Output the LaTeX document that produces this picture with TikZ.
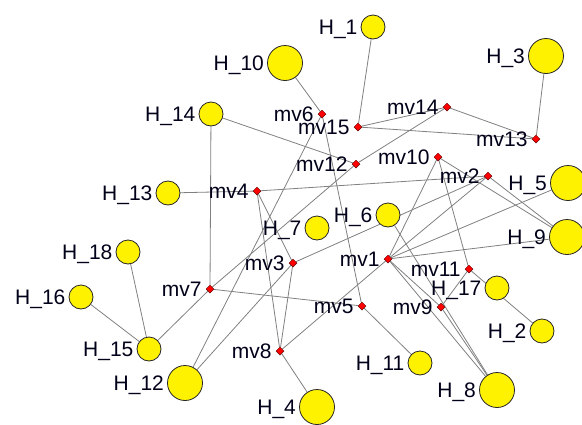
\documentclass[tikz,border=0pt]{standalone}
\usepackage{fontspec}
\setmainfont{Liberation Sans}
\usetikzlibrary{shapes.geometric,backgrounds}
\begin{document}
\begin{tikzpicture}[x=1pt,y=-1pt,
  hbig/.style={circle,draw=black!85,fill=yellow,line width=0.8pt,minimum size=35pt,inner sep=0pt},
  hsmall/.style={hbig,minimum size=24pt},
  mv/.style={diamond,draw=black!60!red,fill=red,line width=0.5pt,minimum size=8pt,inner sep=0pt},
  lbl/.style={anchor=base east,inner sep=0pt,font=\fontsize{21}{21}\selectfont,text=black!90!blue},
  edge/.style={draw=black!50,line width=0.8pt}]
\useasboundingbox (0,0) rectangle (582,424);
% H nodes
\node[hsmall] (H1)  at (373,27)  {};
\node[hbig]   (H10) at (285,63)  {};
\node[hbig]   (H3)  at (546,56)  {};
\node[hsmall] (H14) at (211,114) {};
\node[hsmall] (H13) at (168,193) {};
\node[hbig]   (H5)  at (568,183) {};
\node[hbig]   (H9)  at (567,237) {};
\node[hsmall] (H6)  at (388,215) {};
\node[hsmall] (H7)  at (317,228) {};
\node[hsmall] (H18) at (128,252) {};
\node[hsmall] (H16) at (81,297)  {};
\node[hsmall] (H17) at (497,288) {};
\node[hsmall] (H2)  at (542,331) {};
\node[hsmall] (H15) at (149,349) {};
\node[hbig]   (H12) at (185,383) {};
\node[hsmall] (H11) at (420,363) {};
\node[hbig]   (H8)  at (497,390) {};
\node[hbig]   (H4)  at (317,407) {};
% mv nodes
\node[mv] (mv6)  at (322,114) {};
\node[mv] (mv15) at (358,127) {};
\node[mv] (mv14) at (447,107) {};
\node[mv] (mv13) at (536,139) {};
\node[mv] (mv12) at (356,164) {};
\node[mv] (mv10) at (438,157) {};
\node[mv] (mv2)  at (488,176) {};
\node[mv] (mv4)  at (257,191) {};
\node[mv] (mv7)  at (210,289) {};
\node[mv] (mv3)  at (293,263) {};
\node[mv] (mv8)  at (280,351) {};
\node[mv] (mv1)  at (388,259) {};
\node[mv] (mv11) at (469,269) {};
\node[mv] (mv9)  at (441,307) {};
\node[mv] (mv5)  at (362,306) {};
% labels
\foreach \n/\t in {H1/H\_1,H10/H\_10,H3/H\_3,H14/H\_14,H13/H\_13,H5/H\_5,H9/H\_9,H6/H\_6,H7/H\_7,H18/H\_18,H16/H\_16,H17/H\_17,H2/H\_2,H15/H\_15,H12/H\_12,H11/H\_11,H8/H\_8,H4/H\_4}
  \node[lbl] (L\n) at ([xshift=-3pt,yshift=-7.5pt]\n.west) {\t};
\foreach \n in {mv6,mv15,mv14,mv13,mv12,mv10,mv2,mv4,mv7,mv3,mv8,mv1,mv11,mv9,mv5}
  \node[lbl] (L\n) at ([xshift=-4pt,yshift=-7.5pt]\n.west) {\n};
% edges
\begin{scope}[on background layer]
\foreach \a/\b in {H1/mv15,H10/mv6,H3/mv13,mv15/mv14,mv15/mv13,mv14/mv13,mv14/mv12,mv12/mv7,
  H14/mv12,H14/mv7,H15/mv7,H15/H16,H15/H18,H13/mv4,mv4/mv2,mv4/mv3,mv4/mv8,mv6/mv5,mv6/H12,
  mv3/H12,mv3/mv8,mv3/mv2,mv7/mv5,mv5/H11,mv8/H4,mv8/mv1,mv1/mv10,mv1/mv2,mv1/H5,mv1/H9,
  mv1/H8,mv1/mv9,mv10/H9,mv2/H9,mv10/mv11,mv11/H2,mv11/mv9,mv9/H8,H6/H8}
  \draw[edge] (\a) -- (\b);
\end{scope}
\end{tikzpicture}
\end{document}
